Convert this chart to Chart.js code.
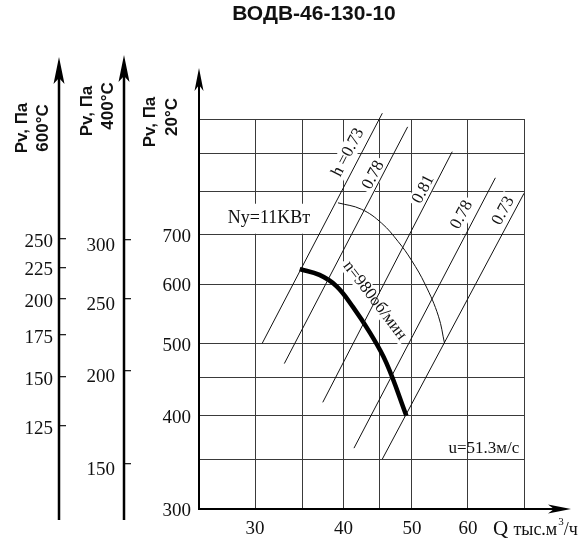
<!DOCTYPE html>
<html>
<head>
<meta charset="utf-8">
<script src="https://cdn.jsdelivr.net/npm/chart.js@4.4.0/dist/chart.umd.min.js"></script>
<style>
  html, body { margin: 0; padding: 0; background: #fff; }
</style>
</head>
<body>
<canvas id="fanChart" width="587" height="556"></canvas>
<script>
const chartTitle = 'ВОДВ-46-130-10';

// Q, thousand m3/h (log axis)
const qTicks = [25, 30, 35, 40, 45, 50, 60, 72];
const qLabels = [30, 40, 50, 60];

// Pv at 20, 400 and 600 C
const p20Ticks = [300, 350, 400, 450, 500, 600, 700, 800, 900, 1000];
const p20Labels = [300, 400, 500, 600, 700];
const p400Ticks = [150, 200, 250, 300];
const p600Ticks = [125, 150, 175, 200, 225, 250];

// n = 980 rpm
const fanQ = [34.7, 37.0, 39.1, 41.3, 43.6, 46.0, 49.1];
const fanP = [629, 618, 597, 559, 517, 471, 400];

// Ny = 11 kW
const powerQ = [39.3, 42.4, 45.3, 47.8, 49.9, 52.2, 54.5, 55.6];
const powerP = [772, 757, 725, 685, 647, 600, 544, 500];

// efficiency rays
const effNames = ['h =0.73', '0.78', '0.81', '0.78', '0.73'];
const effQ = [[30.7, 45.4], [33.0, 49.3], [37.4, 57.0], [41.4, 65.6], [45.4, 72.0]];
const effP = [[500, 1018], [470, 976], [417, 904], [362, 834], [350, 795]];
const effLabelQ = [40.6, 44.1, 51.9, 58.8, 67.3];
const effLabelP = [902, 841, 805, 744, 753];

const serif = '"Liberation Serif", "Times New Roman", serif';
const sans = '"Liberation Sans", Arial, sans-serif';
const gridColor = '#3a3a3a';

function toPoints(qs, ps) {
  return qs.map((q, i) => ({ x: q, y: ps[i] }));
}

function boxedText(ctx, text, x, y, angle, font, boxH, white) {
  ctx.save();
  ctx.translate(x, y);
  ctx.rotate(angle);
  ctx.font = font;
  const w = ctx.measureText(text).width;
  if (white) {
    ctx.fillStyle = '#fff';
    ctx.fillRect(-w / 2 - 3, -boxH / 2, w + 6, boxH);
  }
  ctx.fillStyle = '#111';
  ctx.textAlign = 'center';
  ctx.textBaseline = 'middle';
  ctx.fillText(text, 0, 0);
  ctx.restore();
}

function vText(ctx, text, x, y, font) {
  ctx.save();
  ctx.translate(x, y);
  ctx.rotate(-Math.PI / 2);
  ctx.font = font;
  ctx.fillStyle = '#111';
  ctx.textAlign = 'center';
  ctx.textBaseline = 'middle';
  ctx.fillText(text, 0, 0);
  ctx.restore();
}

function arrowUp(ctx, x, tip, len, half) {
  ctx.beginPath();
  ctx.moveTo(x, tip);
  ctx.lineTo(x - half, tip + len);
  ctx.lineTo(x, tip + len - 6);
  ctx.lineTo(x + half, tip + len);
  ctx.closePath();
  ctx.fill();
}

function arrowRight(ctx, tip, y, len, half) {
  ctx.beginPath();
  ctx.moveTo(tip, y);
  ctx.lineTo(tip - len, y - half);
  ctx.lineTo(tip - len + 6, y);
  ctx.lineTo(tip - len, y + half);
  ctx.closePath();
  ctx.fill();
}

const extras = {
  id: 'extras',
  beforeDatasetsDraw(chart) {
    const { ctx, scales: { x, y } } = chart;
    effNames.forEach((name, i) => {
      const ax = x.getPixelForValue(effQ[i][0]), ay = y.getPixelForValue(effP[i][0]);
      const bx = x.getPixelForValue(effQ[i][1]), by = y.getPixelForValue(effP[i][1]);
      const ang = Math.atan2(by - ay, bx - ax);
      boxedText(ctx, name, x.getPixelForValue(effLabelQ[i]), y.getPixelForValue(effLabelP[i]), ang, '17px ' + serif, 18, true);
    });
    boxedText(ctx, 'Ny=11KBт', x.getPixelForValue(31.4), y.getPixelForValue(735), 0, '18px ' + serif, 30, true);
    const a1x = x.getPixelForValue(fanQ[1]), a1y = y.getPixelForValue(fanP[1]);
    const a2x = x.getPixelForValue(fanQ[5]), a2y = y.getPixelForValue(fanP[5]);
    boxedText(ctx, 'n=980об/мин', x.getPixelForValue(44.3), y.getPixelForValue(571), Math.atan2(a2y - a1y, a2x - a1x), '17px ' + serif, 16, true);
    boxedText(ctx, 'u=51.3м/с', x.getPixelForValue(63.2), y.getPixelForValue(362), 0, '17px ' + serif, 16, false);
  },
  afterDraw(chart) {
    const { ctx, chartArea: area, scales } = chart;
    ctx.save();
    ctx.fillStyle = '#000';
    ctx.strokeStyle = '#000';

    // side axes for 600 and 400 C
    [[scales.y600, 57], [scales.y400, 55]].forEach(([s, tip]) => {
      ctx.lineWidth = 2.5;
      ctx.beginPath();
      ctx.moveTo(s.right, 520);
      ctx.lineTo(s.right, tip + 12);
      ctx.stroke();
      arrowUp(ctx, s.right, tip, 27, 5.5);
    });

    // main axes extensions
    ctx.lineWidth = 2;
    ctx.beginPath();
    ctx.moveTo(area.left, area.top);
    ctx.lineTo(area.left, 80);
    ctx.moveTo(area.right, area.bottom);
    ctx.lineTo(560, area.bottom);
    ctx.stroke();
    arrowUp(ctx, area.left, 68, 23, 4.5);
    arrowRight(ctx, 571, area.bottom, 23, 4.5);

    // axis titles
    const bold = 'bold 17px ' + sans;
    vText(ctx, 'Pv, Па', scales.y600.right - 37, 128, bold);
    vText(ctx, '600°C', scales.y600.right - 16, 128, bold);
    vText(ctx, 'Pv, Па', scales.y400.right - 37, 111, bold);
    vText(ctx, '400°C', scales.y400.right - 16, 106, bold);
    vText(ctx, 'Pv, Па', area.left - 49, 122, bold);
    vText(ctx, '20°C', area.left - 27, 117, bold);

    // chart title
    ctx.font = 'bold 21px ' + sans;
    ctx.fillStyle = '#111';
    ctx.textAlign = 'center';
    ctx.textBaseline = 'middle';
    ctx.fillText(chartTitle, 314, 14);

    // x axis title
    ctx.textAlign = 'left';
    ctx.textBaseline = 'alphabetic';
    let tx = area.right - 31;
    const ty = 535;
    ctx.font = '21px ' + serif;
    ctx.fillText('Q', tx, ty);
    tx += ctx.measureText('Q ').width;
    ctx.font = '18px ' + serif;
    ctx.fillText('тыс.м', tx, ty);
    tx += ctx.measureText('тыс.м').width + 1;
    ctx.font = '11px ' + serif;
    ctx.fillText('3', tx, ty - 10);
    tx += ctx.measureText('3').width;
    ctx.font = '18px ' + serif;
    ctx.fillText('/ч', tx, ty);
    ctx.restore();
  }
};

const datasets = [];
effQ.forEach((qs, i) => {
  datasets.push({
    data: toPoints(qs, effP[i]),
    borderColor: '#111',
    borderWidth: 1,
    pointRadius: 0,
    clip: false
  });
});
datasets.push({
  data: toPoints(powerQ, powerP),
  borderColor: '#111',
  borderWidth: 1,
  pointRadius: 0,
  tension: 0.4
});
datasets.push({
  data: toPoints(fanQ, fanP),
  borderColor: '#000',
  borderWidth: 4.5,
  pointRadius: 0,
  tension: 0.4,
  borderCapStyle: 'butt'
});

new Chart(document.getElementById('fanChart'), {
  type: 'line',
  data: { datasets: datasets },
  options: {
    responsive: false,
    animation: false,
    layout: { padding: { top: 119, right: 63, left: 0, bottom: 0 } },
    plugins: { legend: { display: false }, tooltip: { enabled: false }, title: { display: false } },
    scales: {
      x: {
        type: 'logarithmic',
        min: 25,
        max: 72,
        afterBuildTicks: s => { s.ticks = qTicks.map(v => ({ value: v })); },
        afterFit: s => { s.height = 47; },
        grid: { color: gridColor, lineWidth: 1, drawTicks: false },
        border: { color: '#000', width: 2 },
        ticks: {
          autoSkip: false,
          maxRotation: 0,
          padding: 9,
          color: '#111',
          font: { family: serif, size: 19 },
          callback: v => qLabels.includes(v) ? String(v) : ''
        }
      },
      y: {
        type: 'logarithmic',
        position: 'left',
        weight: 1,
        min: 300,
        max: 1000,
        afterBuildTicks: s => { s.ticks = p20Ticks.map(v => ({ value: v })); },
        afterFit: s => { s.width = 75; },
        grid: { color: gridColor, lineWidth: 1, drawTicks: false },
        border: { color: '#000', width: 2 },
        ticks: {
          autoSkip: false,
          padding: 8,
          labelOffset: 2,
          color: '#111',
          font: { family: serif, size: 19 },
          callback: v => p20Labels.includes(v) ? String(v) : ''
        }
      },
      y400: {
        type: 'logarithmic',
        position: 'left',
        weight: 2,
        // same spread as the 20 C axis, scaled by 293/673
        min: 130.6,
        max: 435.4,
        afterBuildTicks: s => { s.ticks = p400Ticks.map(v => ({ value: v })); },
        afterFit: s => { s.width = 65; },
        grid: { drawOnChartArea: false, color: '#222', lineWidth: 1.3, tickLength: -7 },
        border: { display: false },
        ticks: {
          autoSkip: false,
          padding: 16,
          labelOffset: 6,
          color: '#111',
          font: { family: serif, size: 19 },
          callback: v => String(v)
        }
      },
      y600: {
        type: 'logarithmic',
        position: 'left',
        weight: 3,
        min: 91.8,
        max: 390,
        afterBuildTicks: s => { s.ticks = p600Ticks.map(v => ({ value: v })); },
        afterFit: s => { s.width = 59; },
        grid: { drawOnChartArea: false, color: '#222', lineWidth: 1.3, tickLength: -7 },
        border: { display: false },
        ticks: {
          autoSkip: false,
          padding: 13,
          labelOffset: 3,
          color: '#111',
          font: { family: serif, size: 19 },
          callback: v => String(v)
        }
      }
    }
  },
  plugins: [extras]
});
</script>
</body>
</html>
